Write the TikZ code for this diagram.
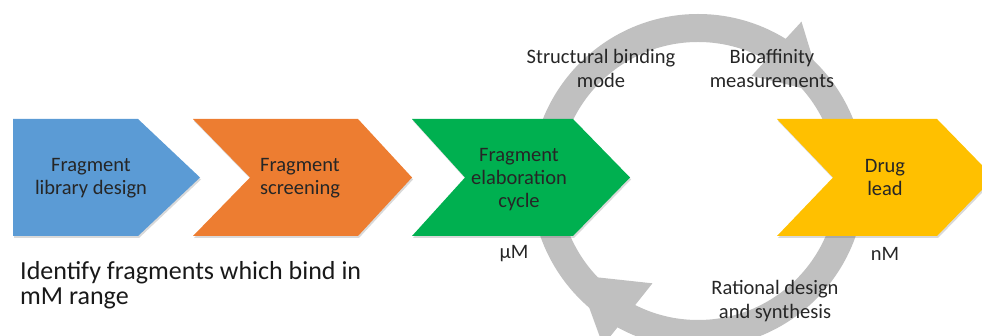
\documentclass[tikz,border=0pt]{standalone}
\usepackage{fontspec}
\setmainfont{Carlito}
\usetikzlibrary{shadows}
\begin{document}
\begin{tikzpicture}[x=1pt,y=-1pt,
  chev/.style={drop shadow={shadow xshift=1pt, shadow yshift=-2pt, opacity=0.25, fill=black!60}},
  ctext/.style={font=\fontsize{20.5}{23}\selectfont, text=black!85, align=center, inner sep=0pt},
  lbl/.style={font=\fontsize{20.5}{24}\selectfont, text=black!85, align=center, inner sep=0pt},
  ring/.style={draw=ringgrey, line width=28pt},
  head/.style={fill=ringgrey, draw=none}]
\definecolor{cblue}{HTML}{5B9BD5}
\definecolor{corange}{HTML}{ED7D31}
\definecolor{cgreen}{HTML}{00B050}
\definecolor{cyellow}{HTML}{FFC000}
\definecolor{ringgrey}{HTML}{C0C0C0}
\useasboundingbox (0,0) rectangle (982,336);
\clip (0,0) rectangle (982,336);
% cycle ring
\coordinate (C) at (698,181);
\draw[ring] (C) circle[radius=153pt];
% arrowheads
\coordinate (t1) at ({698+190*cos(57)},{181-190*sin(57)});
\coordinate (t2) at ({698+118*cos(63)},{181-118*sin(63)});
\coordinate (t3) at ({698+153*cos(35)},{181-153*sin(35)});
\fill[head] (t1) -- (t2) -- (t3) -- cycle;
\coordinate (b1) at ({698+190*cos(240)},{181-190*sin(240)});
\coordinate (b2) at ({698+112*cos(246)},{181-112*sin(246)});
\coordinate (b3) at ({698+153*cos(218)},{181-153*sin(218)});
\fill[head] (b1) -- (b2) -- (b3) -- cycle;
% chevrons
\fill[cblue, chev] (13,119) -- (138,119) -- (200,177.5) -- (138,236) -- (13,236) -- cycle;
\fill[corange, chev] (193,119) -- (358,119) -- (412,177.5) -- (358,236) -- (193,236) -- (250,177.5) -- cycle;
\fill[cgreen, chev] (412,119) -- (573,119) -- (630,177.5) -- (573,236) -- (412,236) -- (465,177.5) -- cycle;
\fill[cyellow, chev] (777,119) -- (937,119) -- (994,177.5) -- (937,236) -- (777,236) -- (833,177.5) -- cycle;
% texts
\node[ctext] (fld) at (91,178) {Fragment\\library design};
\node[ctext] (fs) at (300,178) {Fragment\\screening};
\node[ctext] (fec) at (519,180) {Fragment\\elaboration\\cycle};
\node[ctext] (dl) at (885,178) {Drug\\lead};
\node[lbl] (um) at (514,254) {µM};
\node[lbl] (nm) at (885,254) {nM};
\node[lbl] (sbm) at (601,68) {Structural binding\\mode};
\node[lbl] (bam) at (772,68) {Bioaffinity\\measurements};
\node[lbl] (rds) at (775,301) {Rational design\\and synthesis};
\node[font=\fontsize{26}{24.5}\selectfont, text=black!90, align=left, inner sep=0pt, anchor=west] (idf) at (20,285) {Identify fragments which bind in\\mM range};
\end{tikzpicture}
\end{document}
